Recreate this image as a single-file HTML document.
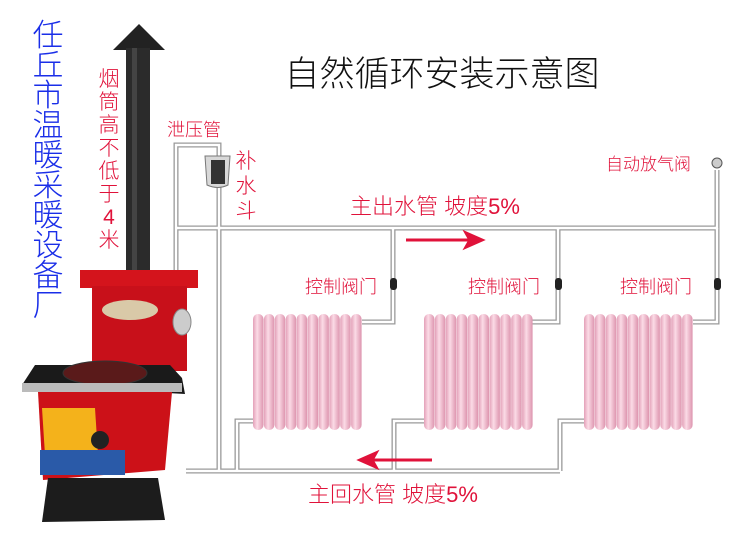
<!DOCTYPE html>
<html><head><meta charset="utf-8"><style>
html,body{margin:0;padding:0;background:#fff;}
svg{display:block}
text{font-family:"Liberation Sans","Noto Sans CJK SC",sans-serif;font-weight:300;}
</style></head><body>
<svg width="750" height="546" viewBox="0 0 750 546" xmlns="http://www.w3.org/2000/svg">
<defs>
<linearGradient id="tube" x1="0" x2="1" y1="0" y2="0">
<stop offset="0" stop-color="#e3a0b8"/><stop offset="0.4" stop-color="#fbdbe6"/><stop offset="1" stop-color="#dd94ae"/>
</linearGradient>
<g id="r">
<rect x="0" y="0" width="10.5" height="116" rx="5" fill="url(#tube)"/>
<rect x="10.9" y="0" width="10.5" height="116" rx="5" fill="url(#tube)"/>
<rect x="21.8" y="0" width="10.5" height="116" rx="5" fill="url(#tube)"/>
<rect x="32.7" y="0" width="10.5" height="116" rx="5" fill="url(#tube)"/>
<rect x="43.6" y="0" width="10.5" height="116" rx="5" fill="url(#tube)"/>
<rect x="54.5" y="0" width="10.5" height="116" rx="5" fill="url(#tube)"/>
<rect x="65.4" y="0" width="10.5" height="116" rx="5" fill="url(#tube)"/>
<rect x="76.3" y="0" width="10.5" height="116" rx="5" fill="url(#tube)"/>
<rect x="87.2" y="0" width="10.5" height="116" rx="5" fill="url(#tube)"/>
<rect x="98.1" y="0" width="10.5" height="116" rx="5" fill="url(#tube)"/>
</g>
</defs>
<g fill="none">
<g stroke="#9a9a9a" stroke-width="5">
<polyline points="176,280 176,145 219,145 219,471"/>
<polyline points="176,228 717,228 717,170"/>
<polyline points="393,228 393,322 362,322"/>
<polyline points="558,228 558,322 532,322"/>
<polyline points="717,228 717,322 693,322"/>
<polyline points="186,471 560,471"/>
<polyline points="237,471 237,421 253,421"/>
<polyline points="394,471 394,421 424,421"/>
<polyline points="560,471 560,421 584,421"/>
</g>
<g stroke="#fff" stroke-width="2.4">
<polyline points="176,280 176,145 219,145 219,471"/>
<polyline points="176,228 717,228 717,170"/>
<polyline points="393,228 393,322 362,322"/>
<polyline points="558,228 558,322 532,322"/>
<polyline points="717,228 717,322 693,322"/>
<polyline points="186,471 560,471"/>
<polyline points="237,471 237,421 253,421"/>
<polyline points="394,471 394,421 424,421"/>
<polyline points="560,471 560,421 584,421"/>
</g>
</g>
<use href="#r" x="253" y="314"/>
<use href="#r" x="424" y="314"/>
<use href="#r" x="584" y="314"/>
<g fill="#222">
<rect x="390" y="278" width="7" height="12" rx="3"/><rect x="555" y="278" width="7" height="12" rx="3"/><rect x="714" y="278" width="7" height="12" rx="3"/>
<circle cx="717" cy="163" r="5" fill="#ccc" stroke="#555"/>
</g>
<path d="M205,156 L230,156 L228,185 Q218,190 207,185 Z" fill="#d8d8d8" stroke="#777"/>
<rect x="211" y="160" width="14" height="24" fill="#333"/>
<g stroke="#e0123a" stroke-width="3" fill="#e0123a">
<line x1="406" y1="240" x2="470" y2="240"/><path d="M482,240 L466,233 L470,240 L466,247 Z"/>
<line x1="372" y1="460" x2="432" y2="460"/><path d="M360,460 L376,453 L372,460 L376,467 Z"/>
</g>
<path d="M113,50 L139,24 L165,50 Z" fill="#222"/>
<rect x="126" y="48" width="24" height="230" fill="#2b2b2b"/>
<rect x="132" y="48" width="5" height="230" fill="#444"/>
<rect x="80" y="270" width="118" height="18" fill="#d4141c"/>
<rect x="92" y="286" width="95" height="85" fill="#c8101a"/>
<ellipse cx="130" cy="310" rx="28" ry="10" fill="#d9c9a8"/>
<ellipse cx="182" cy="322" rx="9" ry="13" fill="#ccc" stroke="#888"/>
<path d="M35,365 L170,365 L182,378 L185,394 L22,385 Z" fill="#1a1a1a"/>
<ellipse cx="105" cy="373" rx="42" ry="12" fill="#5a1a1a" stroke="#333"/>
<rect x="22" y="383" width="160" height="9" fill="#bbb"/>
<path d="M38,392 L172,392 L165,470 L43,480 Z" fill="#cc1118"/>
<path d="M42,408 L95,408 L98,455 L45,455 Z" fill="#f4b21b"/>
<circle cx="100" cy="440" r="9" fill="#222"/>
<rect x="40" y="450" width="85" height="25" fill="#2a5aa8"/>
<path d="M48,478 L158,478 L165,520 L42,522 Z" fill="#1c1c1c"/>
<text x="442" y="86" font-size="35" text-anchor="middle" fill="#111">自然循环安装示意图</text>
<g font-size="31" fill="#1a2ee8" text-anchor="middle">
<text x="48" y="46">任</text><text x="48" y="76">丘</text><text x="48" y="106">市</text><text x="48" y="136">温</text><text x="48" y="166">暖</text><text x="48" y="196">采</text><text x="48" y="226">暖</text><text x="48" y="256">设</text><text x="48" y="286">备</text><text x="48" y="316">厂</text>
</g>
<g font-size="21" fill="#e0123a" text-anchor="middle">
<text x="109" y="86">烟</text><text x="109" y="109">筒</text><text x="109" y="132">高</text><text x="109" y="155">不</text><text x="109" y="178">低</text><text x="109" y="201">于</text><text x="109" y="224">4</text><text x="109" y="247">米</text>
<text x="246" y="168">补</text><text x="246" y="193">水</text><text x="246" y="218">斗</text>
</g>
<g fill="#e0123a">
<text x="167" y="136" font-size="18">泄压管</text>
<text x="606" y="170" font-size="17">自动放气阀</text>
<text x="350" y="214" font-size="22">主出水管  坡度5%</text>
<text x="305" y="293" font-size="18">控制阀门</text>
<text x="468" y="293" font-size="18">控制阀门</text>
<text x="620" y="293" font-size="18">控制阀门</text>
<text x="308" y="502" font-size="22">主回水管  坡度5%</text>
</g>
</svg>
</body></html>
